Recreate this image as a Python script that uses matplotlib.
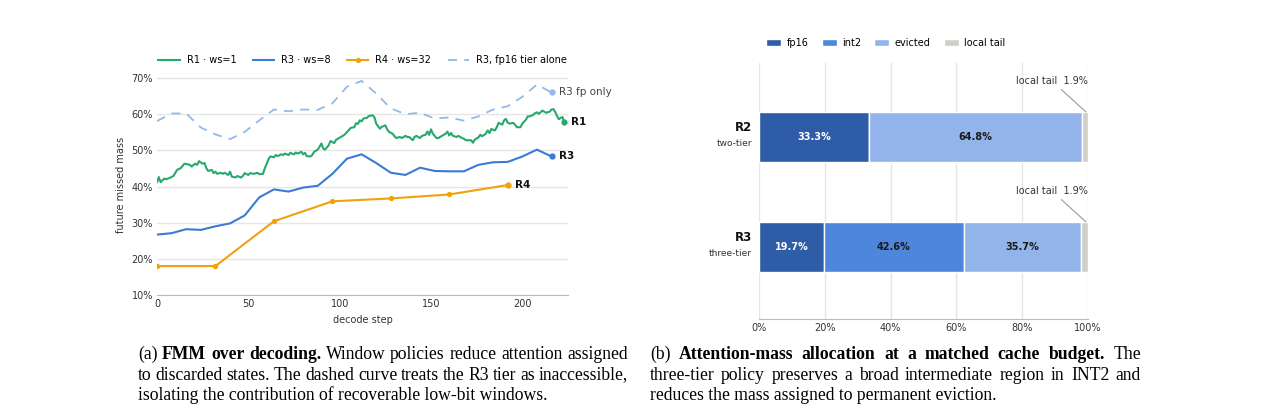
import numpy as np
import matplotlib
matplotlib.use("Agg")
from matplotlib import pyplot as plt

plt.rcParams['font.family'] = ['DejaVu Sans']

# ---- panel (a): future missed mass over decoding ----
r1_steps = [0, 1, 2, 4, 5, 7, 9, 11, 13, 15, 16, 18, 19, 20, 21, 22, 23, 25, 26, 27,
            28, 30, 31, 32, 33, 35, 36, 37, 39, 40, 41, 43, 44, 46, 47, 48, 50, 51, 53, 55,
            56, 58, 59, 61, 62, 64, 65, 66, 68, 69, 70, 72, 73, 75, 76, 77, 79, 80, 81, 82,
            84, 85, 86, 88, 89, 90, 91, 92, 94, 95, 97, 98, 99, 101, 102, 103, 105, 106, 108, 109,
            110, 111, 112, 113, 115, 116, 118, 119, 120, 122, 123, 125, 126, 127, 129, 130, 131, 133, 134, 136,
            137, 138, 140, 141, 142, 144, 145, 147, 148, 149, 150, 151, 153, 154, 155, 157, 158, 159, 160, 161,
            162, 164, 165, 167, 168, 169, 171, 172, 173, 174, 176, 177, 178, 180, 181, 182, 183, 185, 186, 187,
            189, 190, 191, 192, 193, 195, 196, 197, 199, 200, 202, 203, 204, 206, 207, 208, 209, 211, 212, 213,
            215, 216, 217, 218, 219, 220, 221, 222, 223]
r1_fmm = [41.2, 42.6, 41.2, 42.2, 42.0, 42.4, 42.9, 44.6, 45.1, 46.3, 46.2, 46.0, 45.5, 46.0, 46.3, 46.0, 47.0, 46.3, 46.5, 45.1,
          44.3, 44.6, 43.7, 44.1, 43.5, 43.8, 43.5, 43.8, 43.2, 44.1, 42.7, 42.5, 42.9, 42.5, 42.9, 43.7, 43.2, 43.7, 43.5, 43.8,
          43.4, 43.5, 45.0, 47.5, 48.3, 48.1, 48.7, 48.4, 48.9, 48.7, 49.1, 48.7, 49.3, 48.9, 49.4, 49.1, 49.6, 48.9, 49.3, 48.4,
          48.3, 48.7, 49.6, 50.2, 51.0, 51.9, 50.5, 50.2, 51.4, 52.6, 52.0, 52.9, 53.2, 53.8, 54.1, 54.5, 55.6, 56.2, 56.4, 57.5,
          57.3, 58.3, 58.0, 58.8, 59.0, 59.5, 59.7, 59.2, 57.4, 56.0, 56.5, 56.9, 55.8, 55.1, 54.6, 53.9, 53.4, 53.7, 53.4, 54.0,
          53.7, 53.7, 52.8, 53.7, 54.0, 53.4, 54.0, 54.3, 55.2, 54.3, 55.8, 54.6, 53.4, 53.4, 53.7, 54.3, 54.6, 55.2, 54.1, 54.8,
          54.0, 53.7, 54.0, 53.4, 53.2, 52.8, 52.8, 52.8, 52.1, 53.0, 53.6, 54.3, 53.9, 54.6, 55.5, 54.8, 55.9, 55.5, 56.4, 57.6,
          57.1, 58.3, 58.7, 57.6, 57.4, 57.6, 57.1, 56.4, 56.4, 57.4, 58.5, 59.4, 59.4, 59.8, 60.3, 60.5, 60.1, 61.0, 60.7, 60.4,
          60.7, 61.3, 61.4, 60.6, 59.5, 58.6, 59.0, 59.2, 57.8]

r3_steps = [0, 8, 16, 24, 32, 40, 48, 56, 64, 72, 80, 88, 96, 104, 112, 120, 128, 136, 144, 152,
            160, 168, 176, 184, 192, 200, 208, 216]
r3_fmm = [26.7, 27.1, 28.2, 28.0, 29.0, 29.8, 32.0, 37.0, 39.2, 38.6, 39.7, 40.2, 43.5, 47.7, 48.9, 46.5, 43.8, 43.2, 45.2, 44.3,
          44.2, 44.2, 46.0, 46.7, 46.8, 48.3, 50.2, 48.3]
r3_fp_only = [58.1, 60.2, 60.2, 56.3, 54.4, 53.1, 55.1, 58.3, 61.3, 60.8, 61.3, 61.2, 63.0, 67.6, 69.2, 65.7, 61.6, 60.0, 60.4, 58.8,
              59.1, 58.2, 59.4, 61.3, 62.2, 64.8, 68.2, 66.0]

r4_steps = [0, 32, 64, 96, 128, 160, 192]
r4_fmm = [18.0, 18.0, 30.4, 35.9, 36.7, 37.8, 40.4]

# ---- panel (b): attention-mass allocation ----
policies = ['R2', 'R3']
policy_sub = ['two-tier', 'three-tier']
segments = ['fp16', 'int2', 'evicted', 'local tail']
shares = {'fp16': [33.3, 19.7],
          'int2': [0.0, 42.6],
          'evicted': [64.8, 35.7],
          'local tail': [1.9, 1.9]}

green = '#25a96f'
blue = '#3a7bd5'
orange = '#f0a20c'
light_blue = '#93b8ec'
seg_colors = {'fp16': '#2f5ca7', 'int2': '#4e86dc', 'evicted': '#92b4ea', 'local tail': '#cfcfc8'}
grid_c = '#e6e6e6'
tick_c = '#333333'
fs = 7

W, H = 1275, 413
fig = plt.figure(figsize=(W / 100, H / 100), dpi=100)

# left panel
ax = fig.add_axes([157 / W, 1 - 295 / H, (568 - 157) / W, (295 - 74.4) / H])
ax.plot(r1_steps, r1_fmm, color=green, lw=1.5, label='R1 · ws=1')
ax.plot(r3_steps, r3_fmm, color=blue, lw=1.5, label='R3 · ws=8')
ax.plot(r4_steps, r4_fmm, color=orange, lw=1.5, marker='o', ms=2.8, label='R4 · ws=32')
ax.plot(r3_steps, r3_fp_only, color=light_blue, lw=1.3, dashes=(5, 4), label='R3, fp16 tier alone')

ends = [(r1_steps[-1], r1_fmm[-1], green, 'R1', 'bold'),
        (r3_steps[-1], r3_fmm[-1], blue, 'R3', 'bold'),
        (r4_steps[-1], r4_fmm[-1], orange, 'R4', 'bold'),
        (r3_steps[-1], r3_fp_only[-1], light_blue, 'R3 fp only', 'normal')]
for x, y, c, lab, wt in ends:
    ax.plot([x], [y], 'o', color=c, ms=3.5, clip_on=False)
    ax.annotate(lab, xy=(x, y), xytext=(5, 0), textcoords='offset points', va='center',
                fontsize=7.5, fontweight=wt, color='#111111' if wt == 'bold' else '#444444',
                annotation_clip=False)

ax.set_xlim(0, 225)
ax.set_ylim(10, 71)
ax.set_yticks([10, 20, 30, 40, 50, 60, 70])
ax.set_yticklabels(['10%', '20%', '30%', '40%', '50%', '60%', '70%'])
ax.set_xticks([0, 50, 100, 150, 200])
ax.grid(axis='y', color=grid_c, lw=1)
ax.set_axisbelow(True)
for s in ['top', 'right', 'left']:
    ax.spines[s].set_visible(False)
ax.spines['bottom'].set_color('#bbbbbb')
ax.tick_params(length=0, labelsize=fs, colors=tick_c, pad=3)
ax.set_xlabel('decode step', fontsize=fs, color=tick_c, labelpad=4)
ax.set_ylabel('future missed mass', fontsize=fs, color=tick_c, labelpad=4)
ax.legend(loc='center', bbox_to_anchor=(0.5, 1.065), ncol=4, frameon=False, fontsize=fs,
          handlelength=2.2, columnspacing=1.7, handletextpad=0.7)

# right panel
bx = fig.add_axes([759 / W, 1 - 319 / H, 329 / W, 256 / H])
ypos = [1, 0]
left = np.zeros(2)
for seg in segments:
    vals = np.array(shares[seg])
    bx.barh(ypos, vals, left=left, height=0.455, color=seg_colors[seg], edgecolor='white',
            lw=1, label=seg)
    if seg != 'local tail':
        for yy, v, l0 in zip(ypos, vals, left):
            if v > 0:
                bx.text(l0 + v / 2, yy, f'{v:.1f}%', ha='center', va='center', fontsize=fs,
                        fontweight='bold', color='white' if seg == 'fp16' else '#1a1a1a')
    left = left + vals

for i, (yy, name, sub) in enumerate(zip(ypos, policies, policy_sub)):
    bx.annotate(name, xy=(0, yy), xycoords=('axes fraction', 'data'), xytext=(-5, 6.5),
                textcoords='offset points', ha='right', va='center', fontsize=8.5,
                fontweight='bold', color='#111111')
    bx.annotate(sub, xy=(0, yy), xycoords=('axes fraction', 'data'), xytext=(-5, -5),
                textcoords='offset points', ha='right', va='center', fontsize=6.5, color=tick_c)
    bx.annotate(f'local tail  {shares["local tail"][i]:.1f}%',
                xy=(99.4, yy + 0.2275), xytext=(99.9, yy + 0.51), ha='right', va='center',
                fontsize=fs, color=tick_c,
                arrowprops=dict(arrowstyle='-', color='#999999', lw=0.8, shrinkA=1, shrinkB=0))

bx.set_xlim(0, 100)
bx.set_ylim(-0.655, 1.673)
bx.set_yticks([])
bx.set_xticks([0, 20, 40, 60, 80, 100])
bx.set_xticklabels(['0%', '20%', '40%', '60%', '80%', '100%'])
bx.grid(axis='x', color=grid_c, lw=1)
bx.set_axisbelow(True)
for s in ['top', 'right', 'left']:
    bx.spines[s].set_visible(False)
bx.spines['bottom'].set_color('#bbbbbb')
bx.tick_params(length=0, labelsize=fs, colors=tick_c, pad=3)
bx.legend(loc='center left', bbox_to_anchor=(-0.005, 1.078), ncol=4, frameon=False, fontsize=fs,
          handlelength=1.55, handleheight=0.8, columnspacing=1.35, handletextpad=0.55)

# captions (serif, last line natural width, others justified)
serif = 'Liberation Serif'
renderer = fig.canvas.get_renderer()

probe = fig.text(0, 0, 'isolating the contribution of recoverable low-bit windows.',
                 family=serif, fontsize=12)
cap_fs = 12 * 411 / probe.get_window_extent(renderer).width
probe.remove()


def put_line(words, x0, x1, y):
    # words: list of (text, weight); spread them between x0 and x1 (pixels)
    objs = [fig.text(0, 1 - y / H, w, family=serif, fontsize=cap_fs, fontweight=wt,
                     va='baseline', ha='left') for w, wt in words]
    widths = [o.get_window_extent(renderer).width for o in objs]
    gap = (x1 - x0 - sum(widths)) / (len(objs) - 1)
    x = x0
    for o, w in zip(objs, widths):
        o.set_x(x / W)
        x += w + gap


def words_of(s, wt='normal'):
    return [(w, wt) for w in s.split()]


cap_a = [words_of('(a)') + words_of('FMM over decoding.', 'bold') +
         words_of('Window policies reduce attention assigned'),
         words_of('to discarded states. The dashed curve treats the R3 tier as inaccessible,'),
         'isolating the contribution of recoverable low-bit windows.']
cap_b = [words_of('(b)') + words_of('Attention-mass allocation at a matched cache budget.', 'bold') +
         words_of('The'),
         words_of('three-tier policy preserves a broad intermediate region in INT2 and'),
         'reduces the mass assigned to permanent eviction.']
base_y = [359, 379.5, 400]
for i in range(2):
    put_line(cap_a[i], 138, 628, base_y[i])
    put_line(cap_b[i], 650, 1141, base_y[i])
fig.text(138 / W, 1 - base_y[2] / H, cap_a[2], family=serif, fontsize=cap_fs, va='baseline')
fig.text(650 / W, 1 - base_y[2] / H, cap_b[2], family=serif, fontsize=cap_fs, va='baseline')

plt.savefig('out.png', dpi=100)
